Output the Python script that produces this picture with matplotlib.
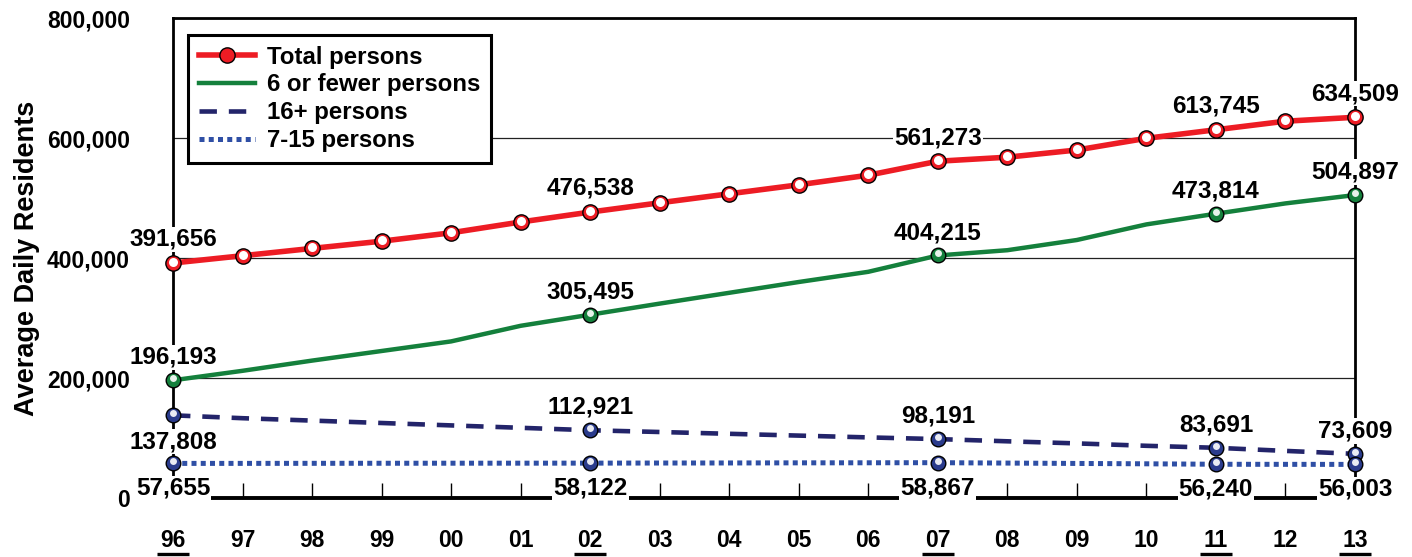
import matplotlib
matplotlib.use('Agg')
import matplotlib.pyplot as plt
from matplotlib.ticker import FuncFormatter
from matplotlib.transforms import offset_copy

plt.rcParams['font.family'] = ['Liberation Sans', 'DejaVu Sans']
plt.rcParams['font.weight'] = 'bold'

# data
years = ['96', '97', '98', '99', '00', '01', '02', '03', '04', '05',
         '06', '07', '08', '09', '10', '11', '12', '13']
total = [391656, 403800, 416000, 428000, 442000, 460000, 476538, 492000, 507000,
         522000, 538000, 561273, 568000, 580000, 599500, 613745, 628000, 634509]
six_or_fewer = [196193, 212000, 229000, 245000, 261000, 287000, 305495, 324000, 342000,
                360000, 377000, 404215, 413000, 430000, 456000, 473814, 491000, 504897]
sixteen_plus = [137808, 133000, 129000, 125000, 121000, 117000, 112921, 110000, 107000,
                104000, 101000, 98191, 94500, 91000, 87000, 83691, 78500, 73609]
seven_fifteen = [57655, 57700, 57800, 57900, 58000, 58050, 58122, 58300, 58400,
                 58600, 58700, 58867, 58200, 57600, 57000, 56240, 56100, 56003]
key_years = [0, 6, 11, 15, 17]  # labelled / underlined years

red = '#ED1C24'
green = '#14803C'
navy = '#23246A'
blue = '#2F4FA5'
ball = '#2A3B8C'

fig = plt.figure(figsize=(14.12, 5.57), dpi=100)
ax = fig.add_axes([0.12252, 0.10592, 0.83711, 0.86176])
x = list(range(len(years)))

ax.plot(x, total, color=red, lw=4, zorder=4, clip_on=False,
        marker='o', ms=11, mfc=red, mec='black', mew=1, label='Total persons')
ax.plot(x, six_or_fewer, color=green, lw=3.2, zorder=3, clip_on=False, label='6 or fewer persons')
ax.plot(x, sixteen_plus, color=navy, lw=3.3, ls=(0, (3.8, 2.6)), zorder=3, clip_on=False,
        dash_capstyle='butt', label='16+ persons')
ax.plot(x, seven_fifteen, color=blue, lw=3.6, ls=(0, (1, 0.85)), zorder=3, clip_on=False,
        dash_capstyle='butt', label='7-15 persons')

kx = [x[i] for i in key_years]
ax.plot(kx, [six_or_fewer[i] for i in key_years], ls='none', marker='o', ms=10.5,
        mfc=green, mec='black', mew=1, zorder=5, clip_on=False)
ax.plot(kx, [sixteen_plus[i] for i in key_years], ls='none', marker='o', ms=10.5,
        mfc=ball, mec='black', mew=1, zorder=5, clip_on=False)
ax.plot(kx, [seven_fifteen[i] for i in key_years], ls='none', marker='o', ms=10.5,
        mfc=ball, mec='black', mew=1, zorder=5, clip_on=False)

# white shine on the balls
shine = offset_copy(ax.transData, fig=fig, x=0, y=1, units='dots')
ax.plot(x, total, ls='none', marker='o', ms=6.5, mfc='white', mew=0,
        transform=shine, zorder=6, clip_on=False)
shine2 = offset_copy(ax.transData, fig=fig, x=0, y=2, units='dots')
for s in (six_or_fewer, sixteen_plus, seven_fifteen):
    ax.plot(kx, [s[i] for i in key_years], ls='none', marker='o', ms=5, mfc='white',
            mew=0, alpha=0.9, transform=shine2, zorder=6, clip_on=False)


def label(series, dy, idx):
    ax.annotate(f'{series[idx]:,}', (x[idx], series[idx]), xytext=(0, dy),
                textcoords='offset points', ha='center', va='center',
                fontsize=17.5, fontweight='bold', zorder=7, annotation_clip=False,
                bbox=dict(boxstyle='square,pad=0.05', fc='white', ec='none'))


for i in key_years:
    label(total, 17, i)
    label(six_or_fewer, 16.5, i)
    label(seven_fifteen, -18, i)
    label(sixteen_plus, -19 if i == 0 else 16.5, i)

ax.set_xlim(0, len(years) - 1)
ax.set_ylim(0, 800000)
ax.set_yticks([0, 200000, 400000, 600000, 800000])
ax.yaxis.set_major_formatter(FuncFormatter(lambda v, p: f'{int(v):,}'))
ax.set_xticks(x)
ax.set_xticklabels(years)
ax.tick_params(axis='y', length=0, pad=31, labelsize=16.5)
ax.tick_params(axis='x', direction='in', length=11, width=1, pad=22, labelsize=16.5)
ax.grid(axis='y', color='#222222', lw=0.9, zorder=1)
ax.set_axisbelow(True)
for side in ['left', 'right', 'top']:
    ax.spines[side].set_linewidth(2)
ax.spines['bottom'].set_linewidth(2.8)

# underline the key years
for i in key_years:
    ax.plot([x[i] - 0.23, x[i] + 0.23], [-0.116, -0.116], color='black', lw=2.4,
            transform=ax.get_xaxis_transform(), clip_on=False, solid_capstyle='butt')

fig.text(0.019, 0.537, 'Average Daily Residents', rotation=90, ha='center', va='center',
         fontsize=19.5, fontweight='bold')

leg = ax.legend(loc='upper left', bbox_to_anchor=(0.0127, 0.965), borderaxespad=0,
                fontsize=17.3, handlelength=2.35, handletextpad=0.5, labelspacing=0.2,
                borderpad=0.45, fancybox=False, framealpha=1, edgecolor='black')
leg.get_frame().set_linewidth(2.2)
leg.set_zorder(8)

fig.savefig('out.png', dpi=100)
